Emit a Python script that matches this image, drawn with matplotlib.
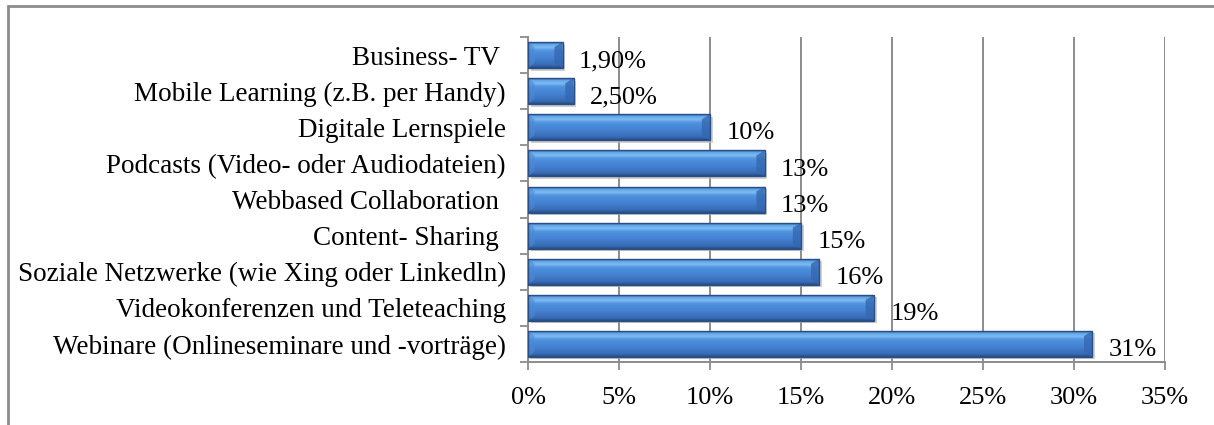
import matplotlib
matplotlib.use("Agg")
import matplotlib.pyplot as plt
import numpy as np
from matplotlib.patches import Rectangle, Polygon
from matplotlib.colors import LinearSegmentedColormap

categories = [
    "Webinare (Onlineseminare und -vorträge)",
    "Videokonferenzen und Teleteaching",
    "Soziale Netzwerke (wie Xing oder Linkedln)",
    "Content- Sharing ",
    "Webbased Collaboration ",
    "Podcasts (Video- oder Audiodateien)",
    "Digitale Lernspiele",
    "Mobile Learning (z.B. per Handy)",
    "Business- TV ",
]
values = [31, 19, 16, 15, 13, 13, 10, 2.5, 1.9]
value_labels = ["31%", "19%", "16%", "15%", "13%", "13%", "10%", "2,50%", "1,90%"]
xticks = [0, 5, 10, 15, 20, 25, 30, 35]
xtick_labels = ["0%", "5%", "10%", "15%", "20%", "25%", "30%", "35%"]

plt.rcParams['font.family'] = ['Liberation Serif', 'DejaVu Serif']

fig = plt.figure(figsize=(12.14, 4.25), dpi=100)
fig.patch.set_facecolor("white")

# outer frame
frame = Rectangle((8/1214, -0.1), 1.2, 1 - 6/425 + 0.1, transform=fig.transFigure,
                  fill=False, edgecolor="#8c8c8c", linewidth=2.0, zorder=0)
fig.patches.append(frame)

ax = fig.add_axes([528/1214, 1 - 362/425, (1165 - 528)/1214, (362 - 37)/425])
ax.set_xlim(0, 35)
ax.set_ylim(-0.5, len(categories) - 0.5)

ax.set_xticks(xticks)
ax.set_xticklabels(xtick_labels, fontsize=19)
ax.set_yticks(np.arange(len(categories)))
ax.set_yticklabels(categories, fontsize=19.5)
ax.set_yticks(np.arange(len(categories) + 1) - 0.5, minor=True)
ax.tick_params(axis='y', which='major', length=0, pad=16)
ax.tick_params(axis='y', which='minor', length=6, color="#8c8c8c", width=1.3)
ax.tick_params(axis='x', length=6, color="#8c8c8c", width=1.3, pad=12)

ax.grid(axis='x', color="#8c8c8c", linewidth=1.4, zorder=0)
ax.set_axisbelow(True)
for s in ["top", "right"]:
    ax.spines[s].set_visible(False)
for s in ["left", "bottom"]:
    ax.spines[s].set_color("#8c8c8c")
    ax.spines[s].set_linewidth(1.4)

h = 0.72
cmap = LinearSegmentedColormap.from_list("bev", [
    (0.0, "#2c5a96"), (0.07, "#5fa2e6"), (0.2, "#7dbcf2"), (0.33, "#4f92de"),
    (0.6, "#4582d2"), (0.88, "#386cb6"), (1.0, "#284c82")])
grad = np.linspace(0, 1, 100).reshape(-1, 1)

bars = ax.barh(np.arange(len(categories)), values, height=h, color="#4582d2", zorder=3)
bw = 0.45
bh = 0.14
for i, (b, v) in enumerate(zip(bars, values)):
    y0 = i - h / 2
    y1 = i + h / 2
    # shadow
    ax.add_patch(Rectangle((0.15, y0 - 0.07), v, h, facecolor="#bdbdbd", edgecolor="none",
                           alpha=0.7, zorder=2))
    im = ax.imshow(grad, cmap=cmap, aspect='auto', extent=(0, v, y0, y1),
                   origin='upper', zorder=3.5, interpolation='bilinear')
    im.set_clip_path(b)
    # right bevel face
    ax.add_patch(Polygon([(v - bw, y1 - bh), (v, y1), (v, y0), (v - bw, y0 + bh)],
                         closed=True, facecolor="#3468b0", edgecolor="none", alpha=0.8, zorder=4))
    # left bevel face
    ax.add_patch(Polygon([(0, y1), (bw * 0.8, y1 - bh), (bw * 0.8, y0 + bh), (0, y0)],
                         closed=True, facecolor="#4d8ad4", edgecolor="none", alpha=0.6, zorder=4))
    ax.add_patch(Rectangle((0, y0), v, h, fill=False, edgecolor="#2a4f86", linewidth=1.0, zorder=4.5))
    ax.text(v + 0.9, i - 0.17, value_labels[i], fontsize=19, va='center', ha='left', zorder=5)

ax.set_xlim(0, 35)
ax.set_ylim(-0.5, len(categories) - 0.5)

fig.savefig("out.png", dpi=100, facecolor="white")
